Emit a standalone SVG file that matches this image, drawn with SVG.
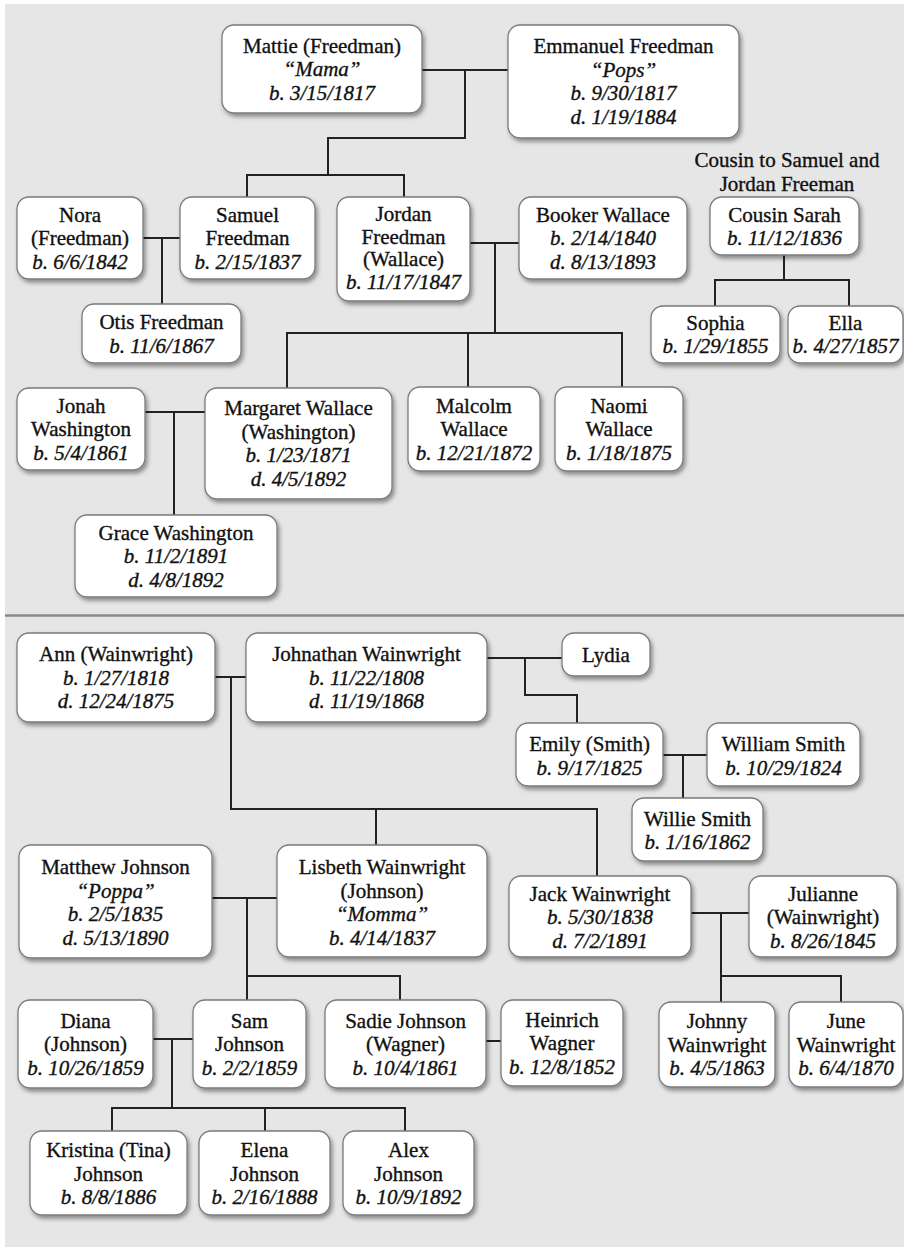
<svg xmlns="http://www.w3.org/2000/svg" width="904" height="1247" viewBox="0 0 904 1247">
<defs>
<filter id="sh" x="-10%" y="-10%" width="125%" height="135%">
<feDropShadow dx="2" dy="3" stdDeviation="2.2" flood-color="#000" flood-opacity="0.4"/>
</filter>
<style>
.box{fill:#fff;stroke:#7a7a7a;stroke-width:1.3;filter:url(#sh)}
text{font-family:"Liberation Serif","Times New Roman",serif;font-size:21px;fill:#111;stroke:#111;stroke-width:0.35;text-anchor:middle}
.i{font-style:italic}
.con{fill:none;stroke:#222;stroke-width:2}
</style>
</defs>
<rect x="0" y="0" width="904" height="1247" fill="#ffffff"/>
<rect x="5" y="4" width="899" height="1243" fill="#e6e6e6"/>
<line x1="5" y1="615.5" x2="904" y2="615.5" stroke="#8a8a8a" stroke-width="2.5"/>

<g id="connectors">
<path class="con" d="M422,70 H508 M465,70 V138 H328 V175 M247,197 V175 H404 V197"/>
<path class="con" d="M143,238 H180 M162,238 V304"/>
<path class="con" d="M470,243 H519 M495,243 V333 M287,388 V333 H622 V387 M468,333 V387"/>
<path class="con" d="M784,255 V280 M715,306 V280 H849 V306"/>
<path class="con" d="M145,412 H205 M174,412 V515"/>
<path class="con" d="M215,677 H246 M231,677 V809 H597 V876 M376,809 V845"/>
<path class="con" d="M487,658 H562 M525,658 V695 H577 V723"/>
<path class="con" d="M663,755 H707 M683,755 V798"/>
<path class="con" d="M212,898 H277 M247,898 V1000 M247,976 H400 V1000"/>
<path class="con" d="M691,913 H749 M721,913 V1002 M721,976 H841 V1002"/>
<path class="con" d="M153,1039 H193 M172,1039 V1108 M112,1131 V1108 H405 V1131 M265,1108 V1131"/>
<path class="con" d="M486,1041 H501"/>
</g>

<g id="mattie"><rect class="box" x="222" y="25" width="200" height="88" rx="12"/>
<text x="322" y="52.5">Mattie (Freedman)</text><text class="i" x="322" y="76">“Mama”</text><text class="i" x="322" y="99.5">b. 3/15/1817</text></g>
<g id="emmanuel"><rect class="box" x="508" y="25" width="231" height="113" rx="12"/>
<text x="623.5" y="53">Emmanuel Freedman</text><text class="i" x="623.5" y="76.5">“Pops”</text><text class="i" x="623.5" y="100">b. 9/30/1817</text><text class="i" x="623.5" y="123.5">d. 1/19/1884</text></g>
<g id="nora"><rect class="box" x="17" y="197" width="126" height="82" rx="12"/>
<text x="80" y="221.5">Nora</text><text x="80" y="245">(Freedman)</text><text class="i" x="80" y="268.5">b. 6/6/1842</text></g>
<g id="samuel"><rect class="box" x="180" y="197" width="135" height="82" rx="12"/>
<text x="247.5" y="221.5">Samuel</text><text x="247.5" y="245">Freedman</text><text class="i" x="247.5" y="268.5">b. 2/15/1837</text></g>
<g id="jordan"><rect class="box" x="337" y="197" width="133" height="104" rx="12"/>
<text x="403.5" y="221">Jordan</text><text x="403.5" y="243.5">Freedman</text><text x="403.5" y="266">(Wallace)</text><text class="i" x="403.5" y="288.5">b. 11/17/1847</text></g>
<g id="booker"><rect class="box" x="519" y="197" width="168" height="82" rx="12"/>
<text x="603" y="221.5">Booker Wallace</text><text class="i" x="603" y="245">b. 2/14/1840</text><text class="i" x="603" y="268.5">d. 8/13/1893</text></g>
<g id="cousin-note"><text x="787" y="167">Cousin to Samuel and</text><text x="787" y="191">Jordan Freeman</text></g>
<g id="sarah"><rect class="box" x="710" y="197" width="149" height="58" rx="12"/>
<text x="784.5" y="221.5">Cousin Sarah</text><text class="i" x="784.5" y="245">b. 11/12/1836</text></g>
<g id="otis"><rect class="box" x="82" y="304" width="159" height="59" rx="12"/>
<text x="161.5" y="329">Otis Freedman</text><text class="i" x="161.5" y="352.5">b. 11/6/1867</text></g>
<g id="sophia"><rect class="box" x="651" y="306" width="129" height="57" rx="12"/>
<text x="715.5" y="329.5">Sophia</text><text class="i" x="715.5" y="353">b. 1/29/1855</text></g>
<g id="ella"><rect class="box" x="788" y="306" width="115" height="57" rx="12"/>
<text x="845.5" y="329.5">Ella</text><text class="i" x="845.5" y="353">b. 4/27/1857</text></g>
<g id="jonah"><rect class="box" x="17" y="388" width="128" height="82" rx="12"/>
<text x="81" y="412.5">Jonah</text><text x="81" y="436">Washington</text><text class="i" x="81" y="459.5">b. 5/4/1861</text></g>
<g id="margaret"><rect class="box" x="205" y="388" width="187" height="111" rx="12"/>
<text x="298.5" y="415">Margaret Wallace</text><text x="298.5" y="438.5">(Washington)</text><text class="i" x="298.5" y="462">b. 1/23/1871</text><text class="i" x="298.5" y="485.5">d. 4/5/1892</text></g>
<g id="malcolm"><rect class="box" x="408" y="387" width="132" height="84" rx="12"/>
<text x="474" y="412.5">Malcolm</text><text x="474" y="436">Wallace</text><text class="i" x="474" y="459.5">b. 12/21/1872</text></g>
<g id="naomi"><rect class="box" x="555" y="387" width="128" height="84" rx="12"/>
<text x="619" y="412.5">Naomi</text><text x="619" y="436">Wallace</text><text class="i" x="619" y="459.5">b. 1/18/1875</text></g>
<g id="grace"><rect class="box" x="75" y="515" width="202" height="82" rx="12"/>
<text x="176" y="539.5">Grace Washington</text><text class="i" x="176" y="563">b. 11/2/1891</text><text class="i" x="176" y="586.5">d. 4/8/1892</text></g>

<g id="ann"><rect class="box" x="17" y="633" width="198" height="89" rx="12"/>
<text x="116" y="661">Ann (Wainwright)</text><text class="i" x="116" y="684.5">b. 1/27/1818</text><text class="i" x="116" y="708">d. 12/24/1875</text></g>
<g id="johnathan"><rect class="box" x="246" y="633" width="241" height="89" rx="12"/>
<text x="366.5" y="661">Johnathan Wainwright</text><text class="i" x="366.5" y="684.5">b. 11/22/1808</text><text class="i" x="366.5" y="708">d. 11/19/1868</text></g>
<g id="lydia"><rect class="box" x="562" y="633" width="88" height="43" rx="12"/>
<text x="606" y="661.5">Lydia</text></g>
<g id="emily"><rect class="box" x="516" y="723" width="147" height="63" rx="12"/>
<text x="589.5" y="751">Emily (Smith)</text><text class="i" x="589.5" y="774.5">b. 9/17/1825</text></g>
<g id="william"><rect class="box" x="707" y="723" width="153" height="63" rx="12"/>
<text x="783.5" y="751">William Smith</text><text class="i" x="783.5" y="774.5">b. 10/29/1824</text></g>
<g id="willie"><rect class="box" x="632" y="798" width="131" height="63" rx="12"/>
<text x="697.5" y="825.5">Willie Smith</text><text class="i" x="697.5" y="849">b. 1/16/1862</text></g>
<g id="matthew"><rect class="box" x="19" y="845" width="193" height="113" rx="12"/>
<text x="115.5" y="874">Matthew Johnson</text><text class="i" x="115.5" y="897.5">“Poppa”</text><text class="i" x="115.5" y="921">b. 2/5/1835</text><text class="i" x="115.5" y="944.5">d. 5/13/1890</text></g>
<g id="lisbeth"><rect class="box" x="277" y="845" width="210" height="112" rx="12"/>
<text x="382" y="874">Lisbeth Wainwright</text><text x="382" y="897.5">(Johnson)</text><text class="i" x="382" y="921">“Momma”</text><text class="i" x="382" y="944.5">b. 4/14/1837</text></g>
<g id="jack"><rect class="box" x="509" y="876" width="182" height="81" rx="12"/>
<text x="600" y="900.5">Jack Wainwright</text><text class="i" x="600" y="924">b. 5/30/1838</text><text class="i" x="600" y="947.5">d. 7/2/1891</text></g>
<g id="julianne"><rect class="box" x="749" y="876" width="148" height="81" rx="12"/>
<text x="823" y="900.5">Julianne</text><text x="823" y="924">(Wainwright)</text><text class="i" x="823" y="947.5">b. 8/26/1845</text></g>
<g id="diana"><rect class="box" x="18" y="1000" width="135" height="88" rx="12"/>
<text x="85.5" y="1027.5">Diana</text><text x="85.5" y="1051">(Johnson)</text><text class="i" x="85.5" y="1074.5">b. 10/26/1859</text></g>
<g id="sam"><rect class="box" x="193" y="1000" width="113" height="88" rx="12"/>
<text x="249.5" y="1027.5">Sam</text><text x="249.5" y="1051">Johnson</text><text class="i" x="249.5" y="1074.5">b. 2/2/1859</text></g>
<g id="sadie"><rect class="box" x="325" y="1000" width="161" height="88" rx="12"/>
<text x="405.5" y="1027.5">Sadie Johnson</text><text x="405.5" y="1051">(Wagner)</text><text class="i" x="405.5" y="1074.5">b. 10/4/1861</text></g>
<g id="heinrich"><rect class="box" x="501" y="1000" width="122" height="86" rx="12"/>
<text x="562" y="1026.5">Heinrich</text><text x="562" y="1050">Wagner</text><text class="i" x="562" y="1073.5">b. 12/8/1852</text></g>
<g id="johnny"><rect class="box" x="659" y="1002" width="116" height="85" rx="12"/>
<text x="717" y="1028">Johnny</text><text x="717" y="1051.5">Wainwright</text><text class="i" x="717" y="1075">b. 4/5/1863</text></g>
<g id="june"><rect class="box" x="789" y="1002" width="114" height="85" rx="12"/>
<text x="846" y="1028">June</text><text x="846" y="1051.5">Wainwright</text><text class="i" x="846" y="1075">b. 6/4/1870</text></g>
<g id="kristina"><rect class="box" x="30" y="1131" width="157" height="84" rx="12"/>
<text x="108.5" y="1157">Kristina (Tina)</text><text x="108.5" y="1180.5">Johnson</text><text class="i" x="108.5" y="1204">b. 8/8/1886</text></g>
<g id="elena"><rect class="box" x="199" y="1131" width="131" height="84" rx="12"/>
<text x="264.5" y="1157">Elena</text><text x="264.5" y="1180.5">Johnson</text><text class="i" x="264.5" y="1204">b. 2/16/1888</text></g>
<g id="alex"><rect class="box" x="343" y="1131" width="131" height="84" rx="12"/>
<text x="408.5" y="1157">Alex</text><text x="408.5" y="1180.5">Johnson</text><text class="i" x="408.5" y="1204">b. 10/9/1892</text></g>
</svg>
